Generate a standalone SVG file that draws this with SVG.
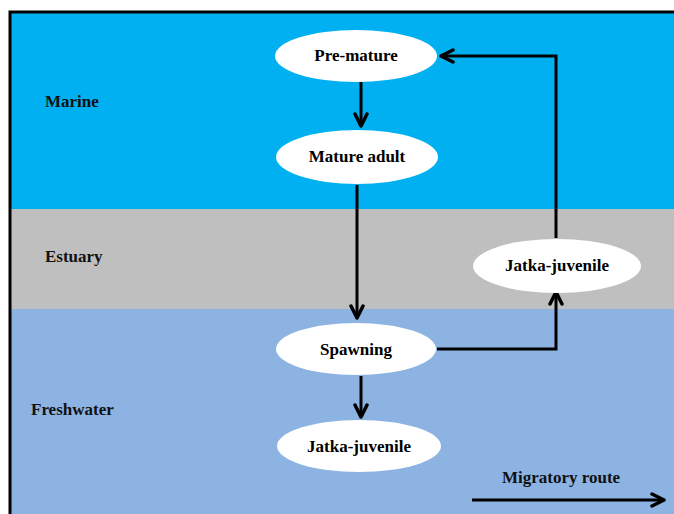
<svg xmlns="http://www.w3.org/2000/svg" width="674" height="514" viewBox="0 0 674 514">
<defs>
<style>
.lbl{font-family:"Liberation Serif","Times New Roman",serif;font-weight:bold;font-size:17px;fill:#111;}
.ntxt{font-family:"Liberation Serif","Times New Roman",serif;font-weight:bold;font-size:17px;fill:#000;text-anchor:middle;}
.node{fill:#fff;stroke:none;}
.con{fill:none;stroke:#000;stroke-width:3;stroke-linejoin:miter;}
</style>
<marker id="ahl" viewBox="0 0 16 16" refX="14" refY="8" markerWidth="16" markerHeight="16" markerUnits="userSpaceOnUse" orient="auto">
<path d="M2,2 L14,8 L2,14" fill="none" stroke="#000" stroke-width="3.5" stroke-linecap="round" stroke-linejoin="round"/>
</marker>
</defs>
<rect x="0" y="0" width="674" height="514" fill="#fff"/>
<g id="bands">
<rect x="10" y="12" width="664" height="197" fill="#00B0F0"/>
<rect x="10" y="209" width="664" height="100" fill="#BFBFBF"/>
<rect x="10" y="309" width="664" height="205" fill="#8DB3E2"/>
<path d="M10,514 L10,12 L674,12" fill="none" stroke="#000" stroke-width="3"/>
</g>
<g id="zone-labels">
<text class="lbl" x="45" y="107">Marine</text>
<text class="lbl" x="45" y="262">Estuary</text>
<text class="lbl" x="31" y="415">Freshwater</text>
</g>
<g id="connectors">
<path class="con" d="M361,82 L361,126" marker-end="url(#ahl)"/>
<path class="con" d="M357,185 L357,318" marker-end="url(#ahl)"/>
<path class="con" d="M361,376 L361,417" marker-end="url(#ahl)"/>
<path class="con" d="M437,349 L556,349 L556,292" marker-end="url(#ahl)"/>
<path class="con" d="M556,238 L556,56 L441,56" marker-end="url(#ahl)"/>
</g>
<g id="pre-mature">
<ellipse class="node" cx="356" cy="56" rx="81" ry="26"/>
<text class="ntxt" x="356" y="61">Pre-mature</text>
</g>
<g id="mature-adult">
<ellipse class="node" cx="357" cy="157" rx="81" ry="27"/>
<text class="ntxt" x="357" y="162">Mature adult</text>
</g>
<g id="spawning">
<ellipse class="node" cx="356" cy="349" rx="80" ry="26"/>
<text class="ntxt" x="356" y="355">Spawning</text>
</g>
<g id="jatka-juvenile-fresh">
<ellipse class="node" cx="359" cy="446" rx="82" ry="26"/>
<text class="ntxt" x="359" y="452">Jatka-juvenile</text>
</g>
<g id="jatka-juvenile-estuary">
<ellipse class="node" cx="557" cy="266" rx="84" ry="27"/>
<text class="ntxt" x="557" y="271">Jatka-juvenile</text>
</g>
<g id="legend">
<text class="lbl" x="502" y="483">Migratory route</text>
<path class="con" d="M472,500 L664,500" marker-end="url(#ahl)"/>
</g>
</svg>
